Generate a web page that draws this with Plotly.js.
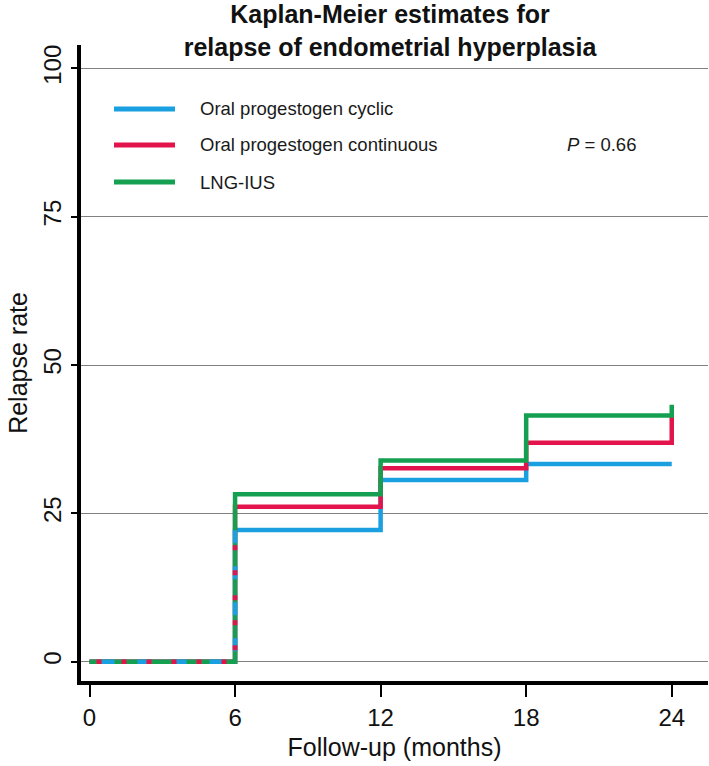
<!DOCTYPE html>
<html>
<head>
<meta charset="utf-8">
<script src="https://cdn.plot.ly/plotly-3.0.1.min.js"></script>
<style>
  html, body { margin: 0; padding: 0; background: #fff; }
  #chart { width: 709px; height: 766px; }
</style>
</head>
<body>
<div id="chart"></div>
<script>
// ---- data ----
const months = [0, 6, 12, 18, 24];
const seriesNames = ['Oral progestogen cyclic', 'Oral progestogen continuous', 'LNG-IUS'];
const cyclic = [0, 22.2, 30.6, 33.3, 33.3];
const continuous = [0, 26.1, 32.6, 36.9, 41.4];
const lngius = [0, 28.2, 33.9, 41.5, 43.3];
const xTicks = [0, 6, 12, 18, 24];
const yTicks = [0, 25, 50, 75, 100];
const pValueText = '<i>P</i> = 0.66';

// ---- styles ----
const colors = ['#1A9FE0', '#E3144B', '#14A050'];
const FONT = '"Liberation Sans", Arial, Helvetica, sans-serif';
const LW = 4.5;

// plot area in pixels
const L = 81, R = 708, T = 45, B = 681, W = 709, H = 766;
const px = x => (x - L) / (R - L);
const py = y => (B - y) / (B - T);

const allSeries = [cyclic, continuous, lngius];

const traces = allSeries.map((ys, i) => ({
  type: 'scatter', mode: 'lines', name: seriesNames[i],
  x: months, y: ys, line: {shape: 'hv', color: colors[i], width: LW},
  showlegend: false, hoverinfo: 'x+y'
}));

// common (overlapping) segment of all curves, derived from the data
let k = 0;
while (k + 1 < months.length && allSeries.every(s => s[k + 1] === allSeries[0][k + 1])) k++;
const commonX = months.slice(0, k + 2);
const commonY = allSeries[0].slice(0, k + 1).concat([Math.min(...allSeries.map(s => s[k + 1]))]);
traces.push({
  type: 'scatter', mode: 'lines', x: commonX, y: commonY, showlegend: false, hoverinfo: 'skip',
  line: {shape: 'hv', color: colors[0], width: LW, dash: '0px,12px,13px,11px'}
});
traces.push({
  type: 'scatter', mode: 'lines', x: commonX, y: commonY, showlegend: false, hoverinfo: 'skip',
  line: {shape: 'hv', color: colors[1], width: LW, dash: '0px,7px,5px,13px'}
});

// manual legend
const legendRowsY = [109, 145, 182];
const shapes = [];
const annotations = [];
seriesNames.forEach((n, i) => {
  shapes.push({type: 'line', xref: 'paper', yref: 'paper',
    x0: px(114), x1: px(175), y0: py(legendRowsY[i]), y1: py(legendRowsY[i]),
    line: {color: colors[i], width: 5}});
  annotations.push({xref: 'paper', yref: 'paper', x: px(198), y: py(legendRowsY[i]),
    xanchor: 'left', yanchor: 'middle', text: n, showarrow: false,
    font: {family: FONT, size: 18.5, color: '#1a1a1a'}});
});
annotations.push({xref: 'paper', yref: 'paper', x: px(601), y: py(145),
  xanchor: 'center', yanchor: 'middle', text: pValueText, showarrow: false,
  font: {family: FONT, size: 18.5, color: '#1a1a1a'}});

const layout = {
  width: W, height: H,
  margin: {l: L, r: W - R, t: T, b: H - B, pad: 0},
  paper_bgcolor: '#fff', plot_bgcolor: '#fff',
  font: {family: FONT, color: '#111'},
  title: {
    text: '<b>Kaplan-Meier estimates for<br>relapse of endometrial hyperplasia</b>',
    font: {family: FONT, size: 25, color: '#111'},
    x: 390 / W, xanchor: 'center', xref: 'container',
    y: 1 - 23 / H, yanchor: 'top', yref: 'container'
  },
  xaxis: {
    range: [(L - 89.5) / 24.26, (R - 89.5) / 24.26],
    tickvals: xTicks, ticktext: xTicks.map(String),
    showline: true, linewidth: 4, linecolor: '#000',
    ticks: 'outside', ticklen: 12, tickwidth: 2, tickcolor: '#000',
    showgrid: false, zeroline: false,
    tickfont: {family: FONT, size: 24, color: '#111'},
    title: {text: 'Follow-up (months)', font: {family: FONT, size: 25, color: '#111'}, standoff: 10}
  },
  yaxis: {
    range: [-(B - 661.7) / 5.934, (661.7 - T) / 5.934],
    tickvals: yTicks, ticktext: yTicks.map(String),
    tickangle: -90,
    showline: true, linewidth: 4, linecolor: '#000',
    ticks: 'outside', ticklen: 6, tickwidth: 2, tickcolor: '#000',
    showgrid: true, gridcolor: '#808080', gridwidth: 1, zeroline: false,
    tickfont: {family: FONT, size: 24, color: '#111'},
    title: {text: 'Relapse rate', font: {family: FONT, size: 25, color: '#111'}, standoff: 6}
  },
  shapes: shapes,
  annotations: annotations,
  showlegend: false
};

Plotly.newPlot('chart', traces, layout, {displayModeBar: false, staticPlot: true});
</script>
</body>
</html>
